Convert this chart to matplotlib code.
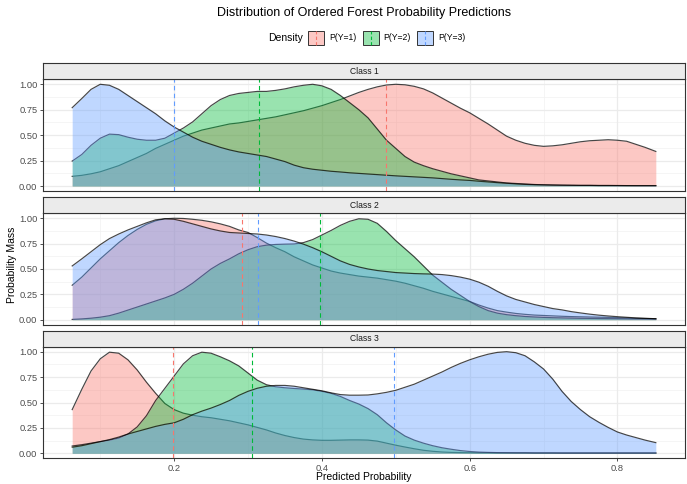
import matplotlib
matplotlib.use("Agg")
import matplotlib.pyplot as plt
from matplotlib.patches import Rectangle
from matplotlib.lines import Line2D

plt.rcParams['font.family'] = ['Liberation Sans', 'DejaVu Sans']

# predicted probability grid
x_grid = [0.062, 0.075, 0.0875, 0.1, 0.1125, 0.125, 0.1375, 0.15, 0.1625, 0.175,
          0.1875, 0.2, 0.2125, 0.225, 0.2375, 0.25, 0.2625, 0.275, 0.2875, 0.3,
          0.3125, 0.325, 0.3375, 0.35, 0.3625, 0.375, 0.3875, 0.4, 0.4125, 0.425,
          0.4375, 0.45, 0.4625, 0.475, 0.4875, 0.5, 0.5125, 0.525, 0.5375, 0.55,
          0.5625, 0.575, 0.5875, 0.6, 0.6125, 0.625, 0.6375, 0.65, 0.6625, 0.675,
          0.6875, 0.7, 0.7125, 0.725, 0.7375, 0.75, 0.7625, 0.775, 0.7875, 0.8,
          0.8125, 0.825, 0.8375, 0.852]

series_names = ['P(Y=1)', 'P(Y=2)', 'P(Y=3)']
class_names = ['Class 1', 'Class 2', 'Class 3']

# scaled densities, one list per class and series
class1_p1 = [0.095, 0.105, 0.12, 0.14, 0.17, 0.20, 0.24, 0.28, 0.32, 0.37,
             0.41, 0.45, 0.49, 0.52, 0.55, 0.57, 0.59, 0.61, 0.62, 0.635,
             0.65, 0.665, 0.68, 0.70, 0.72, 0.74, 0.765, 0.79, 0.82, 0.85,
             0.885, 0.92, 0.95, 0.975, 0.993, 1.0, 0.995, 0.98, 0.955, 0.915,
             0.865, 0.815, 0.765, 0.72, 0.665, 0.61, 0.55, 0.49, 0.45, 0.42,
             0.40, 0.39, 0.395, 0.405, 0.42, 0.435, 0.445, 0.45, 0.455, 0.45,
             0.44, 0.41, 0.38, 0.34]
class1_p2 = [0.245, 0.31, 0.40, 0.47, 0.51, 0.505, 0.48, 0.46, 0.45, 0.45,
             0.47, 0.52, 0.57, 0.63, 0.71, 0.79, 0.85, 0.89, 0.91, 0.92,
             0.93, 0.93, 0.94, 0.955, 0.975, 0.99, 1.0, 0.985, 0.95, 0.89,
             0.82, 0.75, 0.67, 0.56, 0.45, 0.37, 0.29, 0.235, 0.20, 0.17,
             0.145, 0.12, 0.10, 0.08, 0.06, 0.05, 0.04, 0.03, 0.025, 0.02,
             0.015, 0.012, 0.01, 0.008, 0.007, 0.006, 0.006, 0.005, 0.005, 0.004,
             0.004, 0.003, 0.003, 0.003]
class1_p3 = [0.77, 0.86, 0.95, 1.0, 0.99, 0.95, 0.89, 0.83, 0.77, 0.71,
             0.64, 0.58, 0.53, 0.48, 0.44, 0.41, 0.38, 0.355, 0.335, 0.32,
             0.305, 0.29, 0.265, 0.24, 0.205, 0.18, 0.165, 0.155, 0.145, 0.138,
             0.13, 0.124, 0.118, 0.112, 0.106, 0.10, 0.095, 0.09, 0.085, 0.08,
             0.073, 0.066, 0.06, 0.055, 0.047, 0.04, 0.033, 0.027, 0.021, 0.016,
             0.013, 0.011, 0.009, 0.008, 0.007, 0.006, 0.006, 0.005, 0.005, 0.005,
             0.004, 0.004, 0.004, 0.004]

class2_p1 = [0.34, 0.42, 0.51, 0.60, 0.68, 0.76, 0.83, 0.89, 0.94, 0.975,
             0.995, 1.0, 0.998, 0.99, 0.98, 0.965, 0.945, 0.92, 0.885, 0.86,
             0.81, 0.755, 0.71, 0.67, 0.62, 0.58, 0.54, 0.51, 0.48, 0.46,
             0.445, 0.43, 0.42, 0.41, 0.395, 0.38, 0.36, 0.335, 0.31, 0.28,
             0.255, 0.23, 0.205, 0.18, 0.145, 0.115, 0.09, 0.075, 0.062, 0.053,
             0.046, 0.042, 0.038, 0.034, 0.031, 0.029, 0.027, 0.025, 0.023, 0.02,
             0.017, 0.014, 0.012, 0.01]
class2_p2 = [0.003, 0.008, 0.015, 0.025, 0.04, 0.065, 0.095, 0.125, 0.155, 0.185,
             0.215, 0.25, 0.30, 0.36, 0.43, 0.50, 0.555, 0.60, 0.65, 0.69,
             0.72, 0.735, 0.742, 0.745, 0.747, 0.76, 0.79, 0.835, 0.88, 0.93,
             0.97, 0.995, 0.99, 0.95, 0.87, 0.78, 0.70, 0.62, 0.53, 0.44,
             0.37, 0.30, 0.24, 0.18, 0.13, 0.09, 0.065, 0.05, 0.04, 0.032,
             0.027, 0.023, 0.02, 0.018, 0.016, 0.014, 0.013, 0.012, 0.011, 0.01,
             0.009, 0.008, 0.007, 0.006]
class2_p3 = [0.53, 0.60, 0.67, 0.74, 0.80, 0.845, 0.885, 0.92, 0.955, 0.985,
             0.995, 0.99, 0.97, 0.945, 0.92, 0.895, 0.875, 0.86, 0.855, 0.85,
             0.845, 0.835, 0.82, 0.80, 0.775, 0.745, 0.71, 0.67, 0.625, 0.58,
             0.545, 0.52, 0.50, 0.485, 0.475, 0.465, 0.46, 0.455, 0.452, 0.45,
             0.445, 0.435, 0.42, 0.40, 0.37, 0.33, 0.28, 0.235, 0.20, 0.175,
             0.15, 0.13, 0.11, 0.097, 0.08, 0.067, 0.055, 0.045, 0.037, 0.03,
             0.024, 0.018, 0.014, 0.01]

class3_p1 = [0.43, 0.63, 0.81, 0.93, 0.995, 0.985, 0.92, 0.82, 0.70, 0.59,
             0.49, 0.43, 0.395, 0.375, 0.36, 0.35, 0.335, 0.32, 0.30, 0.28,
             0.255, 0.23, 0.20, 0.175, 0.155, 0.14, 0.132, 0.128, 0.128, 0.13,
             0.132, 0.132, 0.13, 0.12, 0.10, 0.08, 0.062, 0.045, 0.03, 0.02,
             0.013, 0.009, 0.007, 0.006, 0.005, 0.005, 0.004, 0.004, 0.004, 0.004,
             0.003, 0.003, 0.003, 0.003, 0.003, 0.003, 0.003, 0.003, 0.003, 0.003,
             0.003, 0.003, 0.003, 0.003]
class3_p2 = [0.072, 0.085, 0.10, 0.115, 0.13, 0.15, 0.19, 0.26, 0.37, 0.52,
             0.64, 0.76, 0.88, 0.96, 0.995, 0.985, 0.95, 0.91, 0.86, 0.79,
             0.72, 0.675, 0.655, 0.645, 0.638, 0.632, 0.625, 0.61, 0.59, 0.56,
             0.52, 0.485, 0.44, 0.38, 0.30, 0.23, 0.17, 0.13, 0.10, 0.075,
             0.055, 0.04, 0.027, 0.018, 0.012, 0.009, 0.007, 0.006, 0.005, 0.005,
             0.004, 0.004, 0.004, 0.003, 0.003, 0.003, 0.003, 0.003, 0.003, 0.003,
             0.003, 0.003, 0.003, 0.003]
class3_p3 = [0.06, 0.075, 0.095, 0.115, 0.135, 0.16, 0.19, 0.215, 0.24, 0.265,
             0.285, 0.30, 0.335, 0.38, 0.415, 0.445, 0.48, 0.52, 0.57, 0.61,
             0.64, 0.66, 0.668, 0.668, 0.66, 0.645, 0.63, 0.615, 0.595, 0.578,
             0.572, 0.572, 0.574, 0.585, 0.60, 0.62, 0.65, 0.68, 0.72, 0.76,
             0.80, 0.845, 0.885, 0.92, 0.95, 0.975, 0.993, 1.0, 0.99, 0.96,
             0.90, 0.83, 0.73, 0.61, 0.51, 0.43, 0.36, 0.305, 0.255, 0.21,
             0.18, 0.155, 0.13, 0.105]

# mean predicted probability per class (dashed lines)
class1_means = [0.487, 0.315, 0.200]
class2_means = [0.292, 0.397, 0.313]
class3_means = [0.199, 0.305, 0.498]

densities = [[class1_p1, class1_p2, class1_p3],
             [class2_p1, class2_p2, class2_p3],
             [class3_p1, class3_p2, class3_p3]]
means = [class1_means, class2_means, class3_means]

colors = ['#F8766D', '#00BA38', '#619CFF']

W, H = 687, 484
fig = plt.figure(figsize=(W / 100, H / 100), dpi=100)


def fx(px):
    return px / W


def fy(py):
    return 1 - py / H


left_px, right_px = 43, 685
# (strip top, panel top, panel bottom) in pixels
panel_px = [(63, 79.2, 191.1), (197, 213.2, 324.8), (330.5, 346.6, 458.4)]

xlim = (0.0225, 0.8915)
ylim = (-0.05, 1.05)

for i, (s_top, p_top, p_bot) in enumerate(panel_px):
    ax = fig.add_axes([fx(left_px), fy(p_bot), fx(right_px - left_px), (p_bot - p_top) / H])
    ax.set_xlim(*xlim)
    ax.set_ylim(*ylim)
    ax.set_facecolor('white')

    for gx in [0.1, 0.3, 0.5, 0.7]:
        ax.axvline(gx, color='#F2F2F2', lw=0.5, zorder=0)
    for gy in [0.125, 0.375, 0.625, 0.875]:
        ax.axhline(gy, color='#F2F2F2', lw=0.5, zorder=0)
    for gx in [0.2, 0.4, 0.6, 0.8]:
        ax.axvline(gx, color='#EBEBEB', lw=0.9, zorder=0)
    for gy in [0, 0.25, 0.5, 0.75, 1.0]:
        ax.axhline(gy, color='#EBEBEB', lw=0.9, zorder=0)

    for j in range(3):
        ax.fill_between(x_grid, 0, densities[i][j], color=colors[j], alpha=0.4, lw=0, zorder=2 + j)
        ax.plot(x_grid, densities[i][j], color='black', alpha=0.72, lw=0.85, zorder=2 + j)
    for j in range(3):
        ax.axvline(means[i][j], color=colors[j], lw=0.8, dashes=(4, 3), zorder=6)

    for sp in ax.spines.values():
        sp.set_color('#333333')
        sp.set_linewidth(0.8)

    ax.set_yticks([0, 0.25, 0.5, 0.75, 1.0])
    ax.set_yticklabels(['0.00', '0.25', '0.50', '0.75', '1.00'])
    ax.tick_params(axis='y', length=2.5, width=0.6, color='#333333',
                   labelsize=6.7, labelcolor='#4D4D4D', pad=1.5)
    if i == 2:
        ax.set_xticks([0.2, 0.4, 0.6, 0.8])
        ax.set_xticklabels(['0.2', '0.4', '0.6', '0.8'])
        ax.tick_params(axis='x', length=2.5, width=0.6, color='#333333',
                       labelsize=6.7, labelcolor='#4D4D4D', pad=1.5)
    else:
        ax.set_xticks([])

    # facet strip
    sax = fig.add_axes([fx(left_px), fy(p_top), fx(right_px - left_px), (p_top - s_top) / H])
    sax.set_facecolor('#EBEBEB')
    sax.set_xticks([])
    sax.set_yticks([])
    for sp in sax.spines.values():
        sp.set_color('#333333')
        sp.set_linewidth(0.8)
    sax.text(0.5, 0.48, class_names[i], ha='center', va='center', fontsize=6.2,
             color='#1A1A1A', transform=sax.transAxes)

# titles
fig.text(fx(364), fy(13), 'Distribution of Ordered Forest Probability Predictions',
         ha='center', va='center', fontsize=9)
fig.text(fx(364), fy(477), 'Predicted Probability', ha='center', va='center', fontsize=7.5)
fig.text(fx(12), fy(265), 'Probability Mass', ha='center', va='center', fontsize=7.5,
         rotation=90)

# legend
leg_y = 38
fig.text(fx(268), fy(leg_y), 'Density', ha='left', va='center', fontsize=7.5)
key_x = [308, 362.5, 417]
for j in range(3):
    kx = key_x[j]
    fig.add_artist(Rectangle((fx(kx), fy(leg_y + 7)), fx(16), 14 / H,
                             transform=fig.transFigure, facecolor=colors[j], alpha=0.4,
                             edgecolor='none'))
    fig.add_artist(Rectangle((fx(kx), fy(leg_y + 7)), fx(16), 14 / H,
                             transform=fig.transFigure, facecolor='none',
                             edgecolor='#333333', lw=0.7))
    fig.add_artist(Line2D([fx(kx + 8), fx(kx + 8)], [fy(leg_y + 7), fy(leg_y - 7)],
                          transform=fig.transFigure, color=colors[j], lw=0.8,
                          dashes=(3, 2)))
    fig.text(fx(kx + 21), fy(leg_y), series_names[j], ha='left', va='center', fontsize=6.2)

fig.savefig('out.png', dpi=100)
